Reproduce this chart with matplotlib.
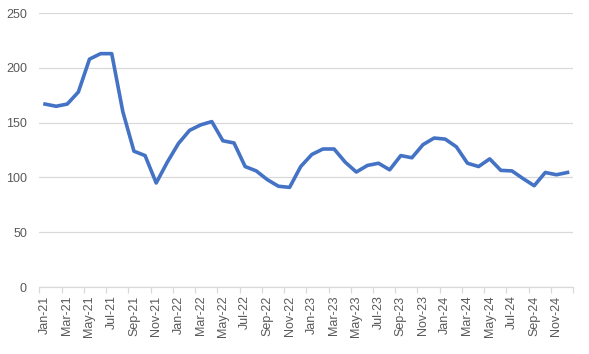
import matplotlib.pyplot as plt
import numpy as np

months = ["Jan", "Feb", "Mar", "Apr", "May", "Jun",
          "Jul", "Aug", "Sep", "Oct", "Nov", "Dec"]
years = ["21", "22", "23", "24"]
labels = ["{}-{}".format(m, y) for y in years for m in months]

values = [
    167, 165, 167, 178, 208, 213, 213, 160, 124, 120, 95, 114,
    131, 143, 148, 151, 133.5, 131.5, 110, 106, 98, 92, 91, 110,
    121, 126, 126, 114, 105, 111, 113, 107, 120, 118, 130, 136,
    135, 128, 113, 110, 117, 106.5, 106, 99, 92.5, 104.6, 102.5, 104.6,
]

grid_col = "#D9D9D9"
text_col = "#595959"

plt.rcParams["font.family"] = "Liberation Sans"
plt.rcParams["font.size"] = 9

fig = plt.figure(figsize=(5.89, 3.54), dpi=100)
ax = fig.add_axes([0.067, 0.189, 0.906, 0.774])

x = np.arange(len(values))
ax.plot(x, values, color="#4472C4", linewidth=2.6, solid_joinstyle="round")

ax.set_xlim(-0.5, len(values) - 0.5)
ax.set_ylim(0, 250)
ax.set_yticks(np.arange(0, 251, 50))
ax.yaxis.grid(True, color=grid_col, linewidth=0.9)
ax.set_axisbelow(True)

ax.set_xticks(x[::2])
ax.set_xticklabels(labels[::2], rotation=90)
ax.set_xticks(np.arange(-0.5, len(values), 2), minor=True)

for s in ["top", "right", "left"]:
    ax.spines[s].set_visible(False)
ax.spines["bottom"].set_color(grid_col)
ax.spines["bottom"].set_linewidth(0.9)

ax.tick_params(axis="x", which="major", length=0, pad=6, colors=text_col)
ax.tick_params(axis="x", which="minor", length=4, color=grid_col, width=0.9)
ax.tick_params(axis="y", length=0, pad=9, colors=text_col)

fig.savefig("out.png", dpi=100)
